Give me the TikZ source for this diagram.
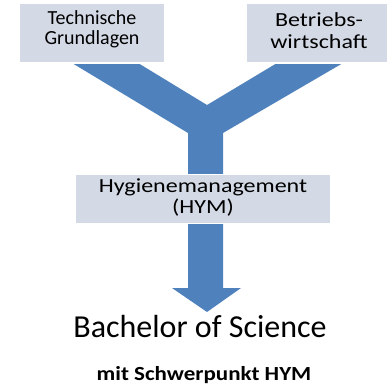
\documentclass[tikz,border=0pt]{standalone}
\usepackage{fontspec}
\setmainfont{Carlito}
\usetikzlibrary{positioning}
\definecolor{boxgray}{HTML}{D3D9E5}
\definecolor{arrowblue}{HTML}{4F81BD}

\begin{document}
\begin{tikzpicture}[x=1pt,y=-1pt,
  fach/.style={fill=boxgray,draw=white,line width=1.5pt,inner sep=0pt},
  fachtext/.style={inner sep=0pt,align=center},
  wide/.style={xscale=1.2,transform shape}]
\useasboundingbox (0,0) rectangle (387,385);

% the blue Y arrow
\coordinate (v) at (207,105);
\coordinate (tip) at (207,312);
\fill[arrowblue] (72,63) -- (138,63) -- (v) -- (277,63) -- (343,63) -- (223,133)
  -- (223,288) -- (241,288) -- (tip) -- (172,288) -- (188,288) -- (188,133) -- cycle;

% boxes
\node[fach,minimum width=146pt,minimum height=60pt](tech) at (92,33){};
\node[fach,minimum width=142pt,minimum height=60pt](bwl) at (317,33){};
\node[fach,minimum width=255pt,minimum height=49pt](hym) at (203,199){};
\node[fachtext,font=\fontsize{20}{20}\selectfont] at ([yshift=4pt]tech.center){Technische\\Grundlagen};
\node[fachtext,wide,font=\fontsize{20}{22}\selectfont] at ([yshift=2pt,xshift=2pt]bwl.center){Betriebs-\\wirtschaft};
\node[fachtext,wide,font=\fontsize{20}{21}\selectfont] at ([yshift=1pt]hym.center){Hygienemanagement\\(HYM)};

\node[anchor=base,font=\fontsize{32}{36}\selectfont](bsc) at (200,337){Bachelor of Science};
\node[anchor=base,xscale=1.15,transform shape,font=\bfseries\fontsize{20}{24}\selectfont](spk) at (204,380){mit Schwerpunkt HYM};
\end{tikzpicture}
\end{document}
